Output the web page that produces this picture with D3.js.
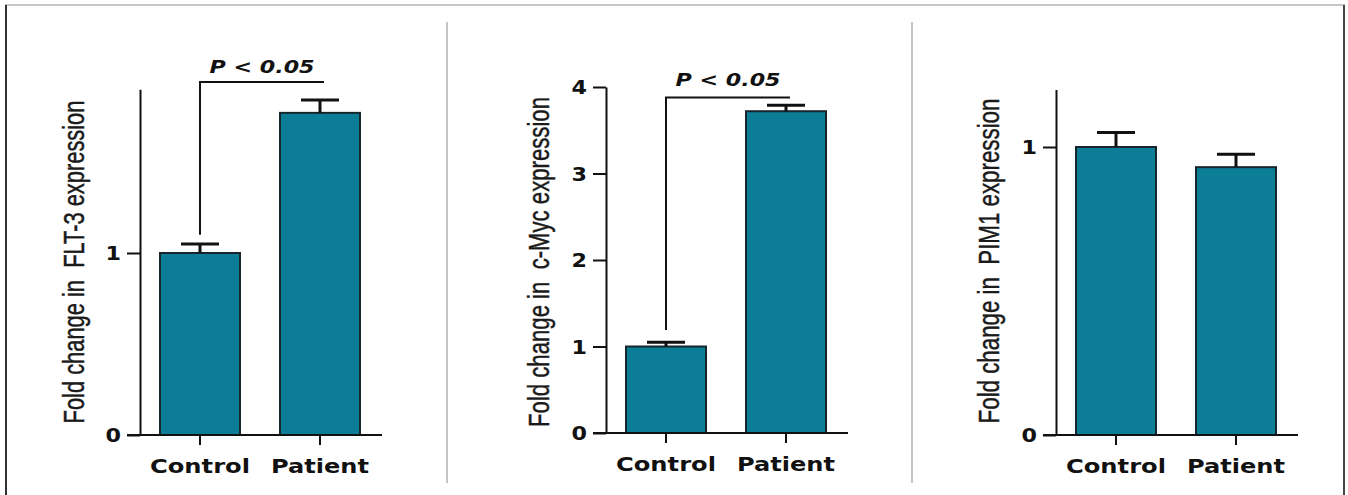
<!DOCTYPE html>
<html>
<head>
<meta charset="utf-8">
<script src="https://cdn.jsdelivr.net/npm/d3@7"></script>
<style>
  html, body { margin: 0; padding: 0; background: #fff; }
  svg { display: block; }
  .ylab { white-space: pre; }
</style>
</head>
<body>
<svg id="fig" width="1348" height="495"></svg>
<script>
// Group labels shared by every panel
const groups = ["Control", "Patient"];

// Mean fold change per group (relative to control) and upper error (SEM)
const flt3Mean = [1.00, 1.77];
const flt3Err  = [0.05, 0.07];
const mycMean  = [1.00, 3.72];
const mycErr   = [0.05, 0.07];
const pim1Mean = [1.00, 0.93];
const pim1Err  = [0.05, 0.045];

// Y tick values per panel
const flt3Ticks = [0, 1];
const mycTicks  = [0, 1, 2, 3, 4];
const pim1Ticks = [0, 1];

// Axis titles
const flt3Title = "Fold change in  FLT-3 expression";
const mycTitle  = "Fold change in  c-Myc expression";
const pim1Title = "Fold change in  PIM1 expression";

// Significance annotation text
const sigText = "P < 0.05";

const svg = d3.select("#fig");

// Frame lines around and between panels
const frame = svg.append("g");
frame.append("line").attr("x1", 5).attr("x2", 1345).attr("y1", 5).attr("y2", 5)
  .attr("stroke", "#b4b4b4").attr("stroke-width", 1.5);
frame.append("line").attr("x1", 6).attr("x2", 6).attr("y1", 5).attr("y2", 495)
  .attr("stroke", "#333").attr("stroke-width", 2);
frame.append("line").attr("x1", 1344).attr("x2", 1344).attr("y1", 5).attr("y2", 495)
  .attr("stroke", "#444").attr("stroke-width", 2);
[447, 912].forEach(x => {
  frame.append("line").attr("x1", x).attr("x2", x).attr("y1", 22).attr("y2", 483)
    .attr("stroke", "#8a8a8a").attr("stroke-width", 1);
});

const barFill = "#0b7d96";
const barStroke = "#17262d";
const boldFont = "'DejaVu Sans', Verdana, sans-serif";

function panel(cfg) {
  const g = svg.append("g");
  const x = d3.scaleBand().domain(groups)
    .range([cfg.axisX, cfg.axisX + 240])
    .paddingInner(1 / 3).paddingOuter(1 / 6);
  const y = d3.scaleLinear().domain([0, cfg.yMax])
    .range([cfg.y0, cfg.y0 - cfg.yMax * cfg.unit]);

  // bars
  g.selectAll("rect.bar").data(cfg.mean).join("rect")
    .attr("class", "bar")
    .attr("x", (d, i) => x(groups[i]))
    .attr("width", x.bandwidth())
    .attr("y", d => y(d))
    .attr("height", d => y(0) - y(d))
    .attr("fill", barFill)
    .attr("stroke", barStroke)
    .attr("stroke-width", 2);

  // upper error bars
  const capHalf = 19;
  const eb = g.selectAll("g.err").data(cfg.mean).join("g").attr("class", "err");
  eb.append("line")
    .attr("x1", (d, i) => x(groups[i]) + x.bandwidth() / 2)
    .attr("x2", (d, i) => x(groups[i]) + x.bandwidth() / 2)
    .attr("y1", d => y(d))
    .attr("y2", (d, i) => y(d + cfg.err[i]))
    .attr("stroke", "#111").attr("stroke-width", 3);
  eb.append("line")
    .attr("x1", (d, i) => x(groups[i]) + x.bandwidth() / 2 - capHalf)
    .attr("x2", (d, i) => x(groups[i]) + x.bandwidth() / 2 + capHalf)
    .attr("y1", (d, i) => y(d + cfg.err[i]))
    .attr("y2", (d, i) => y(d + cfg.err[i]))
    .attr("stroke", "#111").attr("stroke-width", 3);

  // y axis
  const yAxis = g.append("g")
    .attr("transform", `translate(${cfg.axisX},0)`)
    .call(d3.axisLeft(y).tickValues(cfg.ticks).tickFormat(d3.format("d"))
      .tickSize(13).tickSizeOuter(0).tickPadding(6));
  yAxis.select(".domain").attr("stroke", "#111").attr("stroke-width", 2);
  yAxis.selectAll(".tick line").attr("stroke", "#111").attr("stroke-width", 2);
  yAxis.selectAll(".tick text")
    .attr("font-family", boldFont)
    .attr("font-weight", "bold")
    .attr("font-size", 19)
    .attr("fill", "#111")
    .attr("dy", "0.36em")
    .attr("textLength", 15.5)
    .attr("lengthAdjust", "spacingAndGlyphs");

  // x axis baseline spanning from the zero tick to the right end
  g.append("line")
    .attr("x1", cfg.axisX - 13).attr("x2", cfg.axisX + 242)
    .attr("y1", y(0)).attr("y2", y(0))
    .attr("stroke", "#111").attr("stroke-width", 2);

  const xAxis = g.append("g")
    .attr("transform", `translate(0,${y(0)})`)
    .call(d3.axisBottom(x).tickSize(10).tickSizeOuter(0).tickPadding(14));
  xAxis.select(".domain").remove();
  xAxis.selectAll(".tick line").attr("stroke", "#111").attr("stroke-width", 2);
  xAxis.selectAll(".tick text")
    .attr("font-family", boldFont)
    .attr("font-weight", "bold")
    .attr("font-size", 20)
    .attr("fill", "#111")
    .attr("textLength", (d, i) => i === 0 ? 100 : 98)
    .attr("lengthAdjust", "spacingAndGlyphs");

  // y axis title: rotated, baseline at titleX, squeezed along its run to titleLen
  const title = g.append("text")
    .attr("class", "ylab")
    .attr("text-anchor", "middle")
    .attr("font-family", "'Liberation Sans', Arial, sans-serif")
    .attr("font-size", 29)
    .attr("fill", "#1a1a1a")
    .attr("stroke", "#1a1a1a")
    .attr("stroke-width", 0.45)
    .text(cfg.title);
  const natural = title.node().getComputedTextLength();
  const sx = cfg.titleLen / natural;
  title.attr("transform",
    `translate(${cfg.titleX},${cfg.titleY}) rotate(-90) scale(${sx},1)`);

  // significance bracket
  if (cfg.bracket) {
    const xc = x("Control") + x.bandwidth() / 2;
    const xp = x("Patient") + x.bandwidth() / 2;
    const yTop = y(cfg.bracket.top);
    g.append("path")
      .attr("d", `M${xc},${y(cfg.bracket.low)}V${yTop}H${xp + 4}`)
      .attr("fill", "none").attr("stroke", "#111").attr("stroke-width", 2);
    g.append("text")
      .attr("x", (xc + xp + 4) / 2)
      .attr("y", yTop - cfg.bracket.gap)
      .attr("text-anchor", "middle")
      .attr("font-family", boldFont)
      .attr("font-weight", "bold")
      .attr("font-style", "italic")
      .attr("font-size", 18)
      .attr("fill", "#111")
      .attr("textLength", 105)
      .attr("lengthAdjust", "spacingAndGlyphs")
      .text(sigText);
  }
}

panel({
  axisX: 140, y0: 435, unit: 182, yMax: 1.9,
  mean: flt3Mean, err: flt3Err, ticks: flt3Ticks,
  title: flt3Title, titleX: 84, titleY: 262, titleLen: 323,
  bracket: { top: 1.94, low: 1.10, gap: 9 }
});

panel({
  axisX: 606, y0: 433, unit: 86.5, yMax: 4,
  mean: mycMean, err: mycErr, ticks: mycTicks,
  title: mycTitle, titleX: 549, titleY: 262, titleLen: 330,
  bracket: { top: 3.88, low: 1.19, gap: 11 }
});

panel({
  axisX: 1056, y0: 435, unit: 288, yMax: 1.2,
  mean: pim1Mean, err: pim1Err, ticks: pim1Ticks,
  title: pim1Title, titleX: 999, titleY: 261, titleLen: 325,
  bracket: null
});
</script>
</body>
</html>
